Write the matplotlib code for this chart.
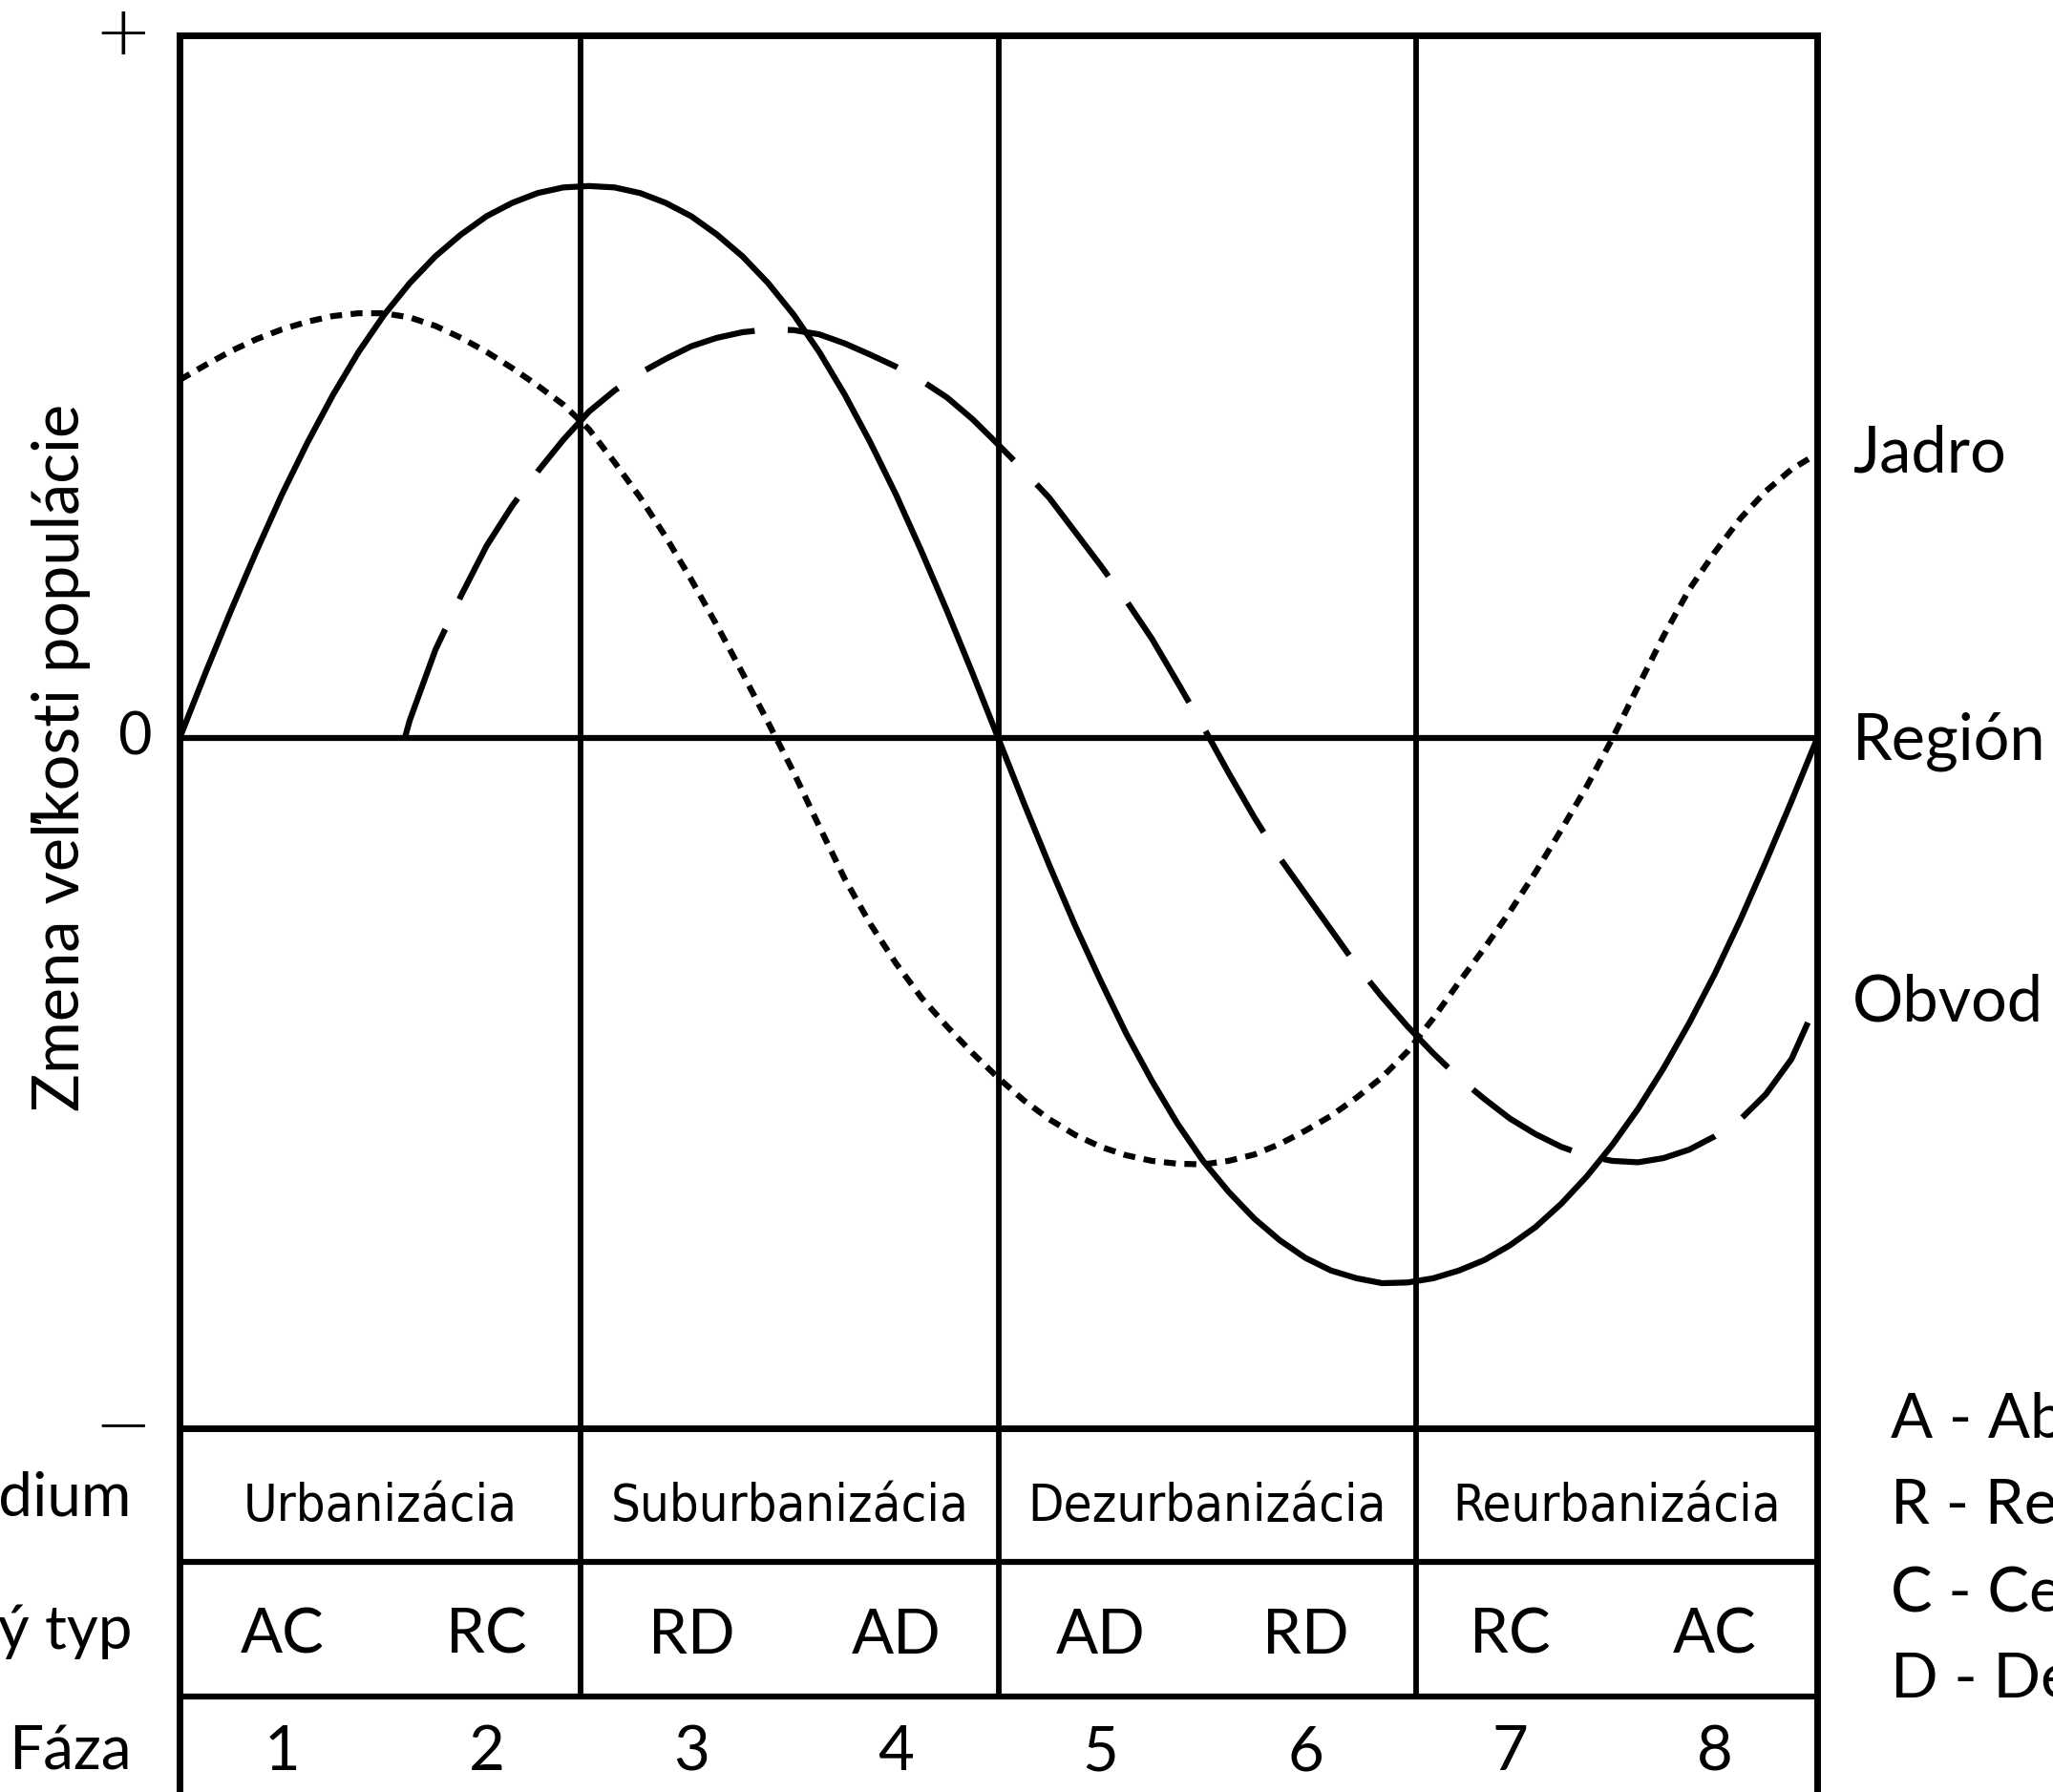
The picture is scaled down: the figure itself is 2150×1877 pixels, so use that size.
import matplotlib.pyplot as plt
from matplotlib import font_manager

plt.rcParams['font.family'] = ['Lato', 'DejaVu Sans']
plt.rcParams['lines.scale_dashes'] = False

W, H = 2150, 1877

# os x: fázy 0..8 (krok 0.125), os y: zmena veľkosti populácie (+1 hore)
x = [i * 0.125 for i in range(65)]
region = [0.0, 0.092, 0.181, 0.266, 0.347, 0.421, 0.489, 0.550, 0.603, 0.648, 0.686,
          0.717, 0.743, 0.762, 0.776, 0.784, 0.786, 0.784, 0.776, 0.762, 0.743, 0.717,
          0.686, 0.648, 0.603, 0.550, 0.489, 0.421, 0.347, 0.266, 0.181, 0.092, 0.0,
          -0.092, -0.181, -0.266, -0.345, -0.420, -0.487, -0.548, -0.601, -0.645, -0.683,
          -0.714, -0.739, -0.757, -0.768, -0.775, -0.774, -0.768, -0.757, -0.742, -0.721,
          -0.695, -0.662, -0.623, -0.578, -0.527, -0.469, -0.405, -0.335, -0.258, -0.175,
          -0.089, 0.0]
jadro = [0.510, 0.531, 0.551, 0.568, 0.582, 0.593, 0.601, 0.605, 0.605, 0.599, 0.587,
         0.570, 0.550, 0.527, 0.502, 0.475, 0.440, 0.393, 0.343, 0.287, 0.226, 0.161,
         0.093, 0.023, -0.048, -0.125, -0.200, -0.264, -0.320, -0.369, -0.410, -0.448,
         -0.483, -0.515, -0.542, -0.564, -0.581, -0.593, -0.601, -0.605, -0.606, -0.601,
         -0.592, -0.577, -0.558, -0.537, -0.511, -0.482, -0.445, -0.398, -0.347, -0.298,
         -0.246, -0.190, -0.130, -0.068, 0.0, 0.074, 0.146, 0.212, 0.265, 0.313, 0.352,
         0.383, 0.405]
obvod_x = [1.1] + x[9:]
obvod = [0.0, 0.026, 0.126, 0.203, 0.274, 0.331, 0.380, 0.425, 0.465, 0.495, 0.520,
         0.540, 0.558, 0.570, 0.578, 0.582, 0.581, 0.575, 0.562, 0.546, 0.529, 0.509,
         0.485, 0.454, 0.418, 0.381, 0.342, 0.294, 0.246, 0.196, 0.142, 0.080, 0.017,
         -0.049, -0.112, -0.170, -0.221, -0.272, -0.323, -0.368, -0.410, -0.448, -0.483,
         -0.513, -0.541, -0.563, -0.581, -0.594, -0.601, -0.603, -0.597, -0.585, -0.566,
         -0.542, -0.506, -0.456, -0.375]

stage_edges = [0, 1.96, 4.0, 6.04, 8]
stages = ['Urbanizácia', 'Suburbanizácia', 'Dezurbanizácia', 'Reurbanizácia']
types = ['AC', 'RC', 'RD', 'AD', 'AD', 'RD', 'RC', 'AC']
phases = ['1', '2', '3', '4', '5', '6', '7', '8']
row_names = ['Štádium', 'Vývojový typ', 'Fáza']
curve_names = ['Jadro', 'Región', 'Obvod']
legend_items = ['A - Absolútna', 'R - Relatívna', 'C - Centralizácia', 'D - Decentralizácia']


def fx(px):
    return px / W


def fy(py):
    return 1 - py / H


# úzke písmo pre názvy štádií, ak je nejaké nainštalované
narrow = [f for f in font_manager.fontManager.ttflist
          if (f.stretch in ('condensed', 'semi-condensed', 'extra-condensed')
              or 'Narrow' in f.name or 'Condensed' in f.name)
          and f.style == 'normal' and f.weight in (400, 'normal', 'regular')]
narrow.sort(key=lambda f: (f.stretch != 'condensed', 'Sans' not in f.name))
if narrow:
    stage_font = font_manager.FontProperties(fname=narrow[0].fname, size=44)
else:
    stage_font = font_manager.FontProperties(family='Lato', size=44)

fig = plt.figure(figsize=(W / 100, H / 100), dpi=100)

# hlavný graf
ax = fig.add_axes([fx(188), fy(1495.7), fx(1903) - fx(188), fy(37.3) - fy(1495.7)])
ax.set_xlim(0, 8)
ax.set_ylim(-0.981, 1.0)
for s in ax.spines.values():
    s.set_linewidth(5)
    s.set_capstyle('projecting')
    s.set_zorder(5)

ax.plot(x, region, color='black', lw=4.5)
ax.plot(x, jadro, color='black', lw=4.5, dashes=(9, 6.5))
ax.plot(obvod_x, obvod, color='black', lw=4.5, dashes=(88, 25))

for e in stage_edges[1:-1]:
    ax.axvline(e, color='black', lw=4.2)
ax.axhline(0, color='black', lw=4.5)

ax.set_xticks([])
ax.set_yticks([-0.981, 0, 1.0], ['−', '0', '+'])
ax.tick_params(axis='y', length=0, pad=21, labelsize=44)
lbls = ax.get_yticklabels()
for t in lbls:
    t.set_va('center')
for t in (lbls[0], lbls[2]):
    t.set_family('DejaVu Sans')
    t.set_weight('light')
    t.set_fontsize(52)

# tabuľka pod grafom
tab = fig.add_axes([fx(188), 0, fx(1903) - fx(188), fy(1495.7)])
tab.patch.set_visible(False)
tab.set_xlim(0, 8)
tab.set_ylim(2.71, 0)
tab.set_xticks([])
tab.set_yticks([])
tab.spines['top'].set_visible(False)
tab.spines['bottom'].set_visible(False)
tab.spines['left'].set_linewidth(5)
tab.spines['right'].set_linewidth(5)
tab.hlines([1, 2], 0, 8, color='black', lw=4.5)
tab.vlines(stage_edges[1:-1], 0, 2, color='black', lw=4.2)

stage_texts = []
for i, name in enumerate(stages):
    t = tab.text((stage_edges[i] + stage_edges[i + 1]) / 2, 0.69, name, ha='center',
                 va='baseline', fontproperties=stage_font)
    stage_texts.append(t)
for i, t in enumerate(types):
    tab.text(i + 0.5, 1.677, t, ha='center', va='baseline', fontsize=47)
for i, p in enumerate(phases):
    tab.text(i + 0.5, 2.548, p, ha='center', va='baseline', fontsize=47)

# popisy
fig.text(fx(83), fy(793.5), 'Zmena veľkosti populácie', rotation=90, rotation_mode='anchor',
         ha='center', va='baseline', fontsize=48)
for name, b in zip(row_names, [1587, 1727, 1853]):
    fig.text(fx(138), fy(b), name, ha='right', va='baseline', fontsize=46)
for name, b in zip(curve_names, [494.6, 795, 1070]):
    fig.text(fx(1940), fy(b), name, ha='left', va='baseline', fontsize=48)
for item, b in zip(legend_items, [1505, 1596, 1687, 1777]):
    fig.text(fx(1980), fy(b), item, ha='left', va='baseline', fontsize=47)

# názvy štádií musia ostať vo svojich bunkách
fig.canvas.draw()
r = fig.canvas.get_renderer()
widest = max(t.get_window_extent(r).width for t in stage_texts)
if widest > 375:
    for t in stage_texts:
        t.set_fontsize(t.get_fontsize() * 375 / widest)

fig.savefig('out.png', dpi=100)
